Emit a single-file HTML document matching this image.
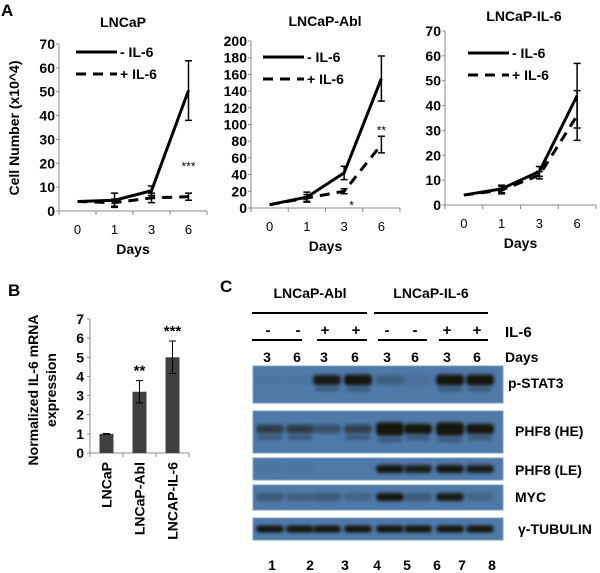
<!DOCTYPE html>
<html><head><meta charset="utf-8"><style>
body{margin:0;background:#fff}
svg{display:block;font-family:"Liberation Sans",Arial,sans-serif}
</style></head><body>
<svg id="fig" width="600" height="573" viewBox="0 0 600 573">
<defs>
<filter id="blur" x="-50%" y="-100%" width="200%" height="300%"><feGaussianBlur stdDeviation="1.5"/></filter>
</defs>
<text x="1" y="16" font-size="17" font-weight="bold">A</text>
<text x="8" y="296" font-size="17" font-weight="bold">B</text>
<text x="220" y="292" font-size="17" font-weight="bold">C</text>
<g id="lines"></g>
<g id="bars"></g>
<g id="blots"></g>
</svg>
<script>
const NS="http://www.w3.org/2000/svg";
const dayLabels=["0","1","3","6"];
// Panel A data
const lncapMinus=[4,4.5,8.5,50.5];
const lncapMinusErr=[0.3,3,2,12.5];
const lncapPlus=[4,3.5,5.5,6];
const lncapPlusErr=[0.3,1.5,2,1.5];
const ablMinus=[4,13,42,155];
const ablMinusErr=[1,6,8,27];
const ablPlus=[4,12,20,76];
const ablPlusErr=[1,4,3,10];
const il6Minus=[4,6.5,13.5,44];
const il6MinusErr=[0.3,1.5,2,13];
const il6Plus=[4,6,12,36];
const il6PlusErr=[0.3,1.5,1.5,10];
// Panel B data
const bCats=["LNCaP","LNCaP-Abl","LNCAP-IL-6"];
const bVals=[1,3.2,5];
const bErr=[0.02,0.58,0.85];
const bSig=["","**","***"];

function mk(tag,attrs,parent,txt){const e=document.createElementNS(NS,tag);for(const k in attrs)e.setAttribute(k,attrs[k]);if(txt!==undefined)e.textContent=txt;parent.appendChild(e);return e;}

function linePanel(cfg){
  const g=mk('g',{},document.getElementById('lines'));
  
  
  const yS=v=>cfg.y0-(v/cfg.ymax)*(cfg.y0-cfg.ytop);
  const step=(cfg.x1-cfg.x0)/4;
  const xS=i=>cfg.x0+step*(i+0.5);
  mk('line',{x1:cfg.x0,y1:cfg.ytop,x2:cfg.x0,y2:cfg.y0,stroke:'#888','stroke-width':1},g);
  mk('line',{x1:cfg.x0,y1:cfg.y0,x2:cfg.x1,y2:cfg.y0,stroke:'#888','stroke-width':1},g);
  for(let v=0;v<=cfg.ymax;v+=cfg.ystep){
    const y=yS(v);
    mk('line',{x1:cfg.x0-3,y1:y,x2:cfg.x0,y2:y,stroke:'#888'},g);
    const t=mk('text',{x:cfg.x0-4,y:y+5,'font-size':14,'font-weight':'bold','text-anchor':'end'},g,String(v));
    
    
  }
  for(let i=0;i<=4;i++){mk('line',{x1:cfg.x0+step*i,y1:cfg.y0,x2:cfg.x0+step*i,y2:cfg.y0+4,stroke:'#888'},g);}
  dayLabels.forEach((d,i)=>{
    const t=mk('text',{x:xS(i),y:cfg.y0+23,'font-size':13,'text-anchor':'middle'},g,d);
    
    
  });
  const xt=mk('text',{x:(cfg.x0+cfg.x1)/2,y:cfg.y0+43,'font-size':14,'font-weight':'bold','text-anchor':'middle'},g,'Days');
  
  
  const tt=mk('text',{x:cfg.tx,y:cfg.ty,'font-size':14,'font-weight':'bold','text-anchor':'middle'},g,cfg.title);
  
  
  [[cfg.minus,cfg.minusErr,null,'series-minus-il6'],[cfg.plus,cfg.plusErr,'10,7','series-plus-il6']].forEach(([vals,err,dash,nm])=>{
    const pts=vals.map((v,i)=>xS(i)+','+yS(v)).join(' ');
    const p=mk('polyline',{points:pts,fill:'none',stroke:'#000','stroke-width':3},g);
    if(dash)p.setAttribute('stroke-dasharray',dash);
    
    
    vals.forEach((v,i)=>{
      if(i===0)return;
      const x=xS(i),a=yS(v+err[i]),b=yS(v-err[i]);
      const eb=mk('path',{d:`M${x},${a}V${b}M${x-3.5},${a}H${x+3.5}M${x-3.5},${b}H${x+3.5}`,stroke:'#000','stroke-width':1.5,fill:'none'},g);
      
      
    });
  });
  const lg=mk('g',{},g);
  
  
  mk('line',{x1:cfg.lx,y1:cfg.ly,x2:cfg.lx+41,y2:cfg.ly,stroke:'#000','stroke-width':3},lg);
  mk('text',{x:cfg.lx+44,y:cfg.ly+5,'font-size':14,'font-weight':'bold'},lg,'- IL-6');
  mk('line',{x1:cfg.lx,y1:cfg.ly+22,x2:cfg.lx+41,y2:cfg.ly+22,stroke:'#000','stroke-width':3,'stroke-dasharray':'10,7'},lg);
  mk('text',{x:cfg.lx+44,y:cfg.ly+27,'font-size':14,'font-weight':'bold'},lg,'+ IL-6');
  (cfg.stars||[]).forEach(s=>{
    const t=mk('text',{x:xS(s[0]),y:yS(s[1]),'font-size':12,'text-anchor':'middle'},g,s[2]);
    
    
  });
  return g;
}
linePanel({name:'chart-lncap',x0:59,x1:207,y0:211,ytop:44,ymax:70,ystep:10,minus:lncapMinus,minusErr:lncapMinusErr,plus:lncapPlus,plusErr:lncapPlusErr,title:'LNCaP',tx:123,ty:27,lx:76,ly:52,stars:[[3,17,'***']]});
linePanel({name:'chart-lncap-abl',x0:251,x1:400,y0:208,ytop:41,ymax:200,ystep:20,minus:ablMinus,minusErr:ablMinusErr,plus:ablPlus,plusErr:ablPlusErr,title:'LNCaP-Abl',tx:325,ty:26,lx:263,ly:57,stars:[[2.2,-2,'*'],[3,88,'**']]});
linePanel({name:'chart-lncap-il6',x0:445,x1:596,y0:205,ytop:31,ymax:70,ystep:10,minus:il6Minus,minusErr:il6MinusErr,plus:il6Plus,plusErr:il6PlusErr,title:'LNCaP-IL-6',tx:524,ty:21,lx:468,ly:53});
(function(){const t=mk('text',{x:0,y:0,'font-size':14,'font-weight':'bold','text-anchor':'middle',transform:'translate(19,128) rotate(-90)'},document.getElementById('lines'),'Cell Number (x10^4)');

})();

// Panel B
(function(){
  const g=document.getElementById('bars');
  
  
  const x0=90,x1=189,y0=453,ytop=319,ymax=7;
  const yS=v=>y0-(v/ymax)*(y0-ytop);
  const step=(x1-x0)/3;
  const xS=i=>x0+step*(i+0.5);
  mk('line',{x1:x0,y1:ytop,x2:x0,y2:y0,stroke:'#888'},g);
  mk('line',{x1:x0,y1:y0,x2:x1,y2:y0,stroke:'#888'},g);
  for(let v=0;v<=ymax;v++){
    const y=yS(v);
    mk('line',{x1:x0-3,y1:y,x2:x0,y2:y,stroke:'#888'},g);
    const t=mk('text',{x:x0-6,y:y+5,'font-size':14,'font-weight':'bold','text-anchor':'end'},g,String(v));
    
    
  }
  for(let i=0;i<=3;i++)mk('line',{x1:x0+step*i,y1:y0,x2:x0+step*i,y2:y0+4,stroke:'#888'},g);
  bVals.forEach((v,i)=>{
    const r=mk('rect',{x:xS(i)-7,y:yS(v),width:14,height:y0-yS(v),fill:'#404040'},g);
    
    
    const x=xS(i),a=yS(v+bErr[i]),b=yS(v-bErr[i]);
    const eb=mk('path',{d:`M${x},${a}V${b}M${x-3.5},${a}H${x+3.5}M${x-3.5},${b}H${x+3.5}`,stroke:'#000','stroke-width':1,fill:'none'},g);
    
    
    if(bSig[i]){const s=mk('text',{x:x,y:a-5,'font-size':15,'font-weight':'bold','text-anchor':'middle'},g,bSig[i]);
    
    }
    const t=mk('text',{x:0,y:0,'font-size':14,'font-weight':'bold','text-anchor':'end',transform:`translate(${x+5},462) rotate(-90)`},g,bCats[i]);
    
    
  });
  const t1=mk('text',{x:0,y:0,'font-size':14,'font-weight':'bold','text-anchor':'middle',transform:'translate(38,390) rotate(-90)'},g,'Normalized IL-6 mRNA');
  
  
  mk('text',{x:0,y:0,'font-size':14,'font-weight':'bold','text-anchor':'middle',transform:'translate(56,390) rotate(-90)'},g,'expression');
})();

// Panel C western blots
const laneX=[270,300,327,358,390,418,450,480];
const signs=["-","-","+","+","-","-","+","+"];
const days=["3","6","3","6","3","6","3","6"];
const laneNums=["1","2","3","4","5","6","7","8"];
const pstat=[0.05,0.05,0.95,1.1,0.25,0.08,1.1,1.1];
const phfHE=[0.6,0.6,0.4,0.55,1.5,1.15,1.5,1.15];
const phfLE=[0.05,0.05,0,0,1,0.9,1,0.9];
const myc=[0.3,0.25,0.3,0.2,1,0.3,0.95,0.2];
const tub=[1,1,1,1,1,1,1,1];
(function(){
  const g=document.getElementById('blots');
  
  
  const B=(t,x,y,o)=>{const e=mk('text',Object.assign({x:x,y:y,'font-size':14,'font-weight':'bold'},o||{}),g,t);return e;};
  let e=B('LNCaP-Abl',310,298,{'text-anchor':'middle'});
  e=B('LNCaP-IL-6',431,298,{'text-anchor':'middle'});
  mk('path',{d:'M252,313H367M374,313H488M252,340H302M317,340H367M378,340H427M439,340H488',stroke:'#000','stroke-width':2},g);
  signs.forEach((s,i)=>B(s,laneX[i]+(i<4?-2:-3),335,{'text-anchor':'middle','font-size':15}));
  days.forEach((d,i)=>B(d,laneX[i]-3,362,{'text-anchor':'middle'}));
  B('IL-6',505,337,{'font-size':15});
  B('Days',505,362);
  const blots=[
    {name:'blot-p-stat3',y:366,h:37,vals:pstat,by:380,bh:10,sec:0.35,label:'p-STAT3',lx:508,ly:388},
    {name:'blot-phf8-he',y:411,h:42,vals:phfHE,by:429,bh:9,sec:0.4,label:'PHF8 (HE)',lx:515,ly:436},
    {name:'blot-phf8-le',y:458,h:22,vals:phfLE,by:469,bh:8,sec:0,label:'PHF8 (LE)',lx:515,ly:475},
    {name:'blot-myc',y:485,h:25,vals:myc,by:497,bh:8,sec:0,label:'MYC',lx:515,ly:502},
    {name:'blot-gamma-tubulin',y:518,h:22,vals:tub,by:529,bh:7,sec:0,label:'γ-TUBULIN',lx:518,ly:534}
  ];
  blots.forEach(b=>{
    const bg=mk('g',{},g);
    
    
    mk('rect',{x:253,y:b.y,width:250,height:b.h,fill:'#4f79a8',stroke:'#7c9ec4','stroke-width':1},bg);
    b.vals.forEach((v,i)=>{
      if(v<=0)return;
      const o=Math.min(1,v);
      const hh=b.bh*(v>1?v:1);
      mk('rect',{x:laneX[i]-14,y:b.by-hh/2,width:28,height:hh,rx:4,fill:'#15140e',opacity:o,filter:'url(#blur)'},bg);
      if(b.sec&&v>0.5)mk('rect',{x:laneX[i]-12,y:b.by+hh/2+2,width:24,height:4,rx:2,fill:'#1a1a20',opacity:b.sec,filter:'url(#blur)'},bg);
    });
    const t=mk('text',{x:b.lx,y:b.ly,'font-size':14,'font-weight':'bold'},g,b.label);
    
    
  });
  const nx=[272,310,345,377,407,437,462,492];
  laneNums.forEach((n,i)=>{const t=B(n,nx[i],570,{'text-anchor':'middle'});
    
    });
})();
</script>
</body></html>
